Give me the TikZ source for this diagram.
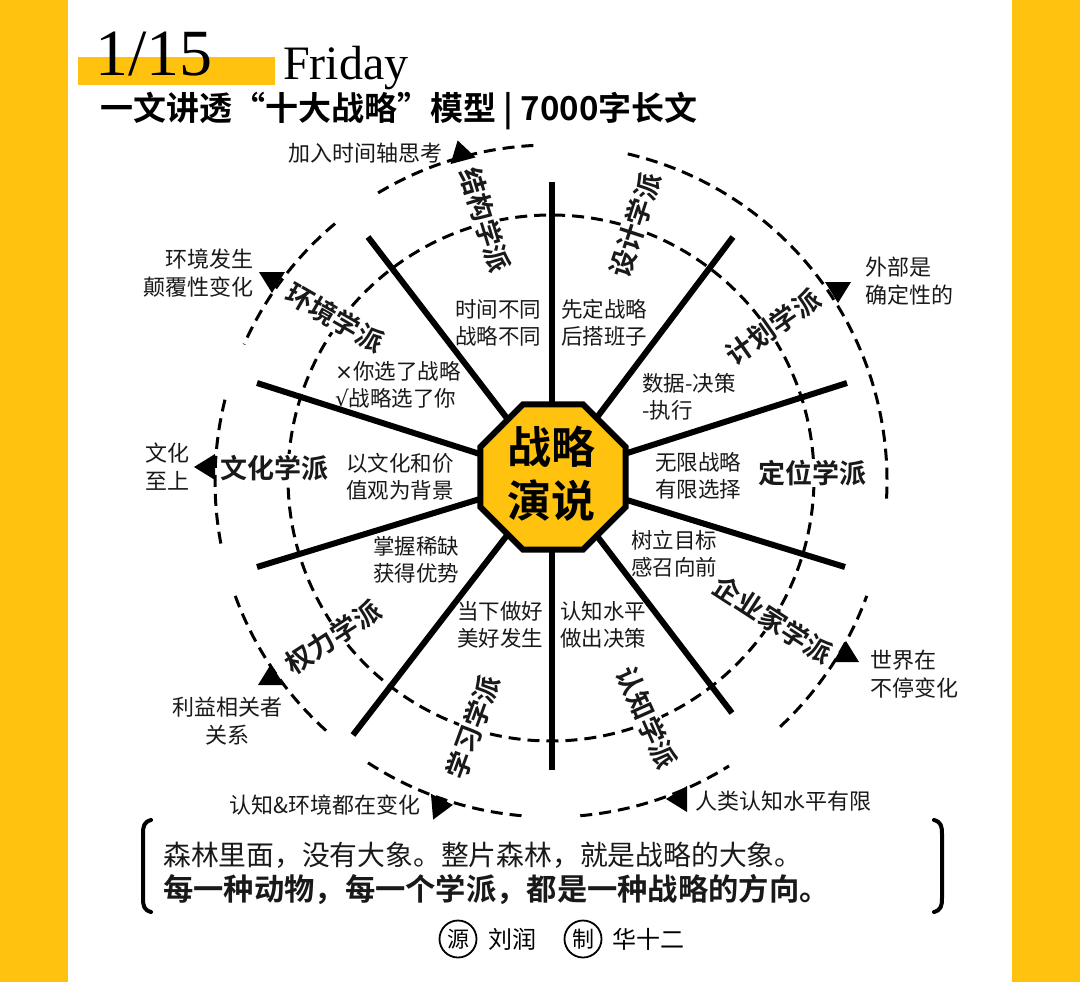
\documentclass[tikz,border=0pt]{standalone}
\usepackage{fontspec}
\setmainfont{Liberation Serif}
\newfontfamily\cjk{Noto Sans CJK SC}
\newfontfamily\cjkb{Noto Sans CJK SC Bold}
\newfontfamily\dejavu{DejaVu Sans}
\usetikzlibrary{shapes.geometric}
\definecolor{gold}{RGB}{255,194,14}
\definecolor{ink}{RGB}{25,25,25}
\begin{document}
\begin{tikzpicture}[x=1pt,y=1pt,
  dashline/.style={line width=3pt, dash pattern=on 12pt off 7pt},
  spoke/.style={line width=6pt},
  school/.style={font=\cjkb\fontsize{27}{27}\selectfont, fill=white, inner sep=1pt, text=ink},
  inlab/.style={font=\cjk\fontsize{21.5}{26.5}\selectfont, align=center, inner sep=0pt, text=ink},
  outlab/.style={font=\cjk\fontsize{22}{28}\selectfont, inner sep=0pt, text=ink},
  tri/.pic={\fill[black] (0,13) -- (-13,-8) -- (13,-8) -- cycle;}
]
\useasboundingbox (0,0) rectangle (1080,-982);
\fill[white] (0,0) rectangle (1080,-982);
\fill[gold] (0,0) rectangle (68,-982);
\fill[gold] (1012,0) rectangle (1080,-982);

% title
\fill[gold] (78,-57) rectangle (275,-85);
\node[anchor=base west, inner sep=0pt, font=\fontsize{66}{66}\selectfont] (date) at (95,-76) {1/15};
\node[anchor=base west, inner sep=0pt, font=\fontsize{48}{48}\selectfont] (day) at (283,-80) {Friday};
\node[anchor=west, inner sep=0pt, font=\cjkb\fontsize{33}{33}\selectfont] (sub) at (100,-111) {一文讲透“十大战略”模型 | 7000字长文};

% centres
\coordinate (C) at (552,-477);
\coordinate (I) at (551,-478);
\coordinate (O) at (551,-481);

% inner dashed circle
\draw[dashline] (I) circle[radius=263];

% spokes
\coordinate (s90) at (552,-182);
\coordinate (s54) at (733,-237);
\coordinate (s18) at (847,-383);
\coordinate (sm18) at (845,-567);
\coordinate (sm54) at (732,-713);
\coordinate (sm90) at (552,-770);
\coordinate (sm126) at (353,-735);
\coordinate (sm162) at (257,-567);
\coordinate (s162) at (257,-383);
\coordinate (s126) at (368,-237);
\foreach \e in {s90,s54,s18,sm18,sm54,sm90,sm126,sm162,s162,s126}
  \draw[spoke] (C) -- (\e);

% hub
\node[regular polygon, regular polygon sides=8, minimum size=157pt, inner sep=0pt,
      fill=gold, draw=black, line width=6pt] (hub) at (553,-477) {};
\node[font=\cjkb\fontsize{44}{54}\selectfont, align=center, inner sep=0pt] (hubtext) at (551,-474) {战略\\演说};

% outer arcs
\draw[dashline] (O) ++(93:336) arc[start angle=93, end angle=121, radius=336];
\draw[dashline] (O) ++(130:336) arc[start angle=130, end angle=156, radius=336];
\draw[dashline] (O) ++(166:336) arc[start angle=166, end angle=191, radius=336];
\draw[dashline] (O) ++(200:336) arc[start angle=200, end angle=229, radius=336];
\draw[dashline] (O) ++(237:336) arc[start angle=237, end angle=265, radius=336];
\draw[dashline] (O) ++(275:336) arc[start angle=275, end angle=302, radius=336];
\draw[dashline] (O) ++(313:336) arc[start angle=313, end angle=340, radius=336];
\draw[dashline] (O) ++(-3:336) arc[start angle=-3, end angle=77, radius=336];

% triangles
\pic[rotate=15] at (461,-153) {tri};
\pic[rotate=180] at (272,-280) {tri};
\pic[rotate=180] at (838,-290) {tri};
\pic[rotate=90] at (207,-467) {tri};
\pic[rotate=0] at (846,-654) {tri};
\pic[rotate=90] at (679,-799) {tri};
\pic[rotate=-85] at (440,-806) {tri};
\pic[rotate=0] at (271,-677) {tri};

% outer labels
\node[outlab, anchor=east] (o1) at (443,-153) {加入时间轴思考};
\node[outlab, anchor=east, align=right] (o2) at (254,-273) {环境发生\\颠覆性变化};
\node[outlab, anchor=west, align=left] (o3) at (865,-281) {外部是\\确定性的};
\node[outlab, anchor=west, align=left] (o4) at (145,-467) {文化\\至上};
\node[outlab, anchor=west, align=left] (o5) at (870,-674) {世界在\\不停变化};
\node[outlab, anchor=west] (o6) at (695,-801) {人类认知水平有限};
\node[outlab, anchor=east] (o7) at (421,-805) {认知\&环境都在变化};
\node[outlab, align=center] (o8) at (227,-721) {利益相关者\\关系};

% inner labels
\node[inlab] (i1) at (498,-323) {时间不同\\战略不同};
\node[inlab] (i2) at (604,-323) {先定战略\\后搭班子};
\node[inlab, anchor=west, align=left] (i3) at (642,-397) {数据-决策\\-执行};
\node[inlab] (i4) at (698,-476) {无限战略\\有限选择};
\node[inlab] (i5) at (674,-554) {树立目标\\感召向前};
\node[inlab] (i6) at (603,-625) {认知水平\\做出决策};
\node[inlab] (i7) at (500,-625) {当下做好\\美好发生};
\node[inlab] (i8) at (416,-560) {掌握稀缺\\获得优势};
\node[inlab] (i9) at (400,-477) {以文化和价\\值观为背景};
\node[inlab, align=left] (i10) at (398,-385) {{\dejavu ×}你选了战略\\{\dejavu √}战略选了你};

% school labels
\node[school, rotate=-73] (k1) at (485,-220) {结构学派};
\node[school, rotate=72] (k2) at (635,-225) {设计学派};
\node[school, rotate=35] (k3) at (773,-327) {计划学派};
\node[school] (k4) at (812,-473) {定位学派};
\node[school, rotate=-33] (k5) at (773,-620) {企业家学派};
\node[school, rotate=-66] (k6) at (647,-718) {认知学派};
\node[school, rotate=70] (k7) at (473,-727) {学习学派};
\node[school, rotate=33] (k8) at (333,-637) {权力学派};
\node[school] (k9) at (274,-468) {文化学派};
\node[school, rotate=-30] (k10) at (335,-318) {环境学派};

% quote
\draw[line width=4pt, line cap=round] (151,-820) .. controls (144,-822) and (143,-826) .. (143,-834) -- (143,-898) .. controls (143,-906) and (144,-910) .. (151,-912);
\draw[line width=4pt, line cap=round] (934,-820) .. controls (941,-822) and (942,-826) .. (942,-834) -- (942,-898) .. controls (942,-906) and (941,-910) .. (934,-912);
\node[anchor=west, inner sep=0pt, font=\cjk\fontsize{27.8}{27.8}\selectfont, text=ink] (q1) at (163,-855) {森林里面，没有大象。整片森林，就是战略的大象。};
\node[anchor=west, inner sep=0pt, font=\cjkb\fontsize{30.3}{30.3}\selectfont, text=ink] (q2) at (163,-890) {每一种动物，每一个学派，都是一种战略的方向。};

% credits
\node[draw, circle, line width=1.8pt, minimum size=37pt, inner sep=0pt, font=\cjk\fontsize{22}{22}\selectfont] (src) at (458,-939) {源};
\node[anchor=west, inner sep=0pt, font=\cjk\fontsize{24}{24}\selectfont] (srcn) at (488,-939) {刘润};
\node[draw, circle, line width=1.8pt, minimum size=37pt, inner sep=0pt, font=\cjk\fontsize{22}{22}\selectfont] (mk) at (583,-939) {制};
\node[anchor=west, inner sep=0pt, font=\cjk\fontsize{24}{24}\selectfont] (mkn) at (612,-939) {华十二};
\end{tikzpicture}
\end{document}
